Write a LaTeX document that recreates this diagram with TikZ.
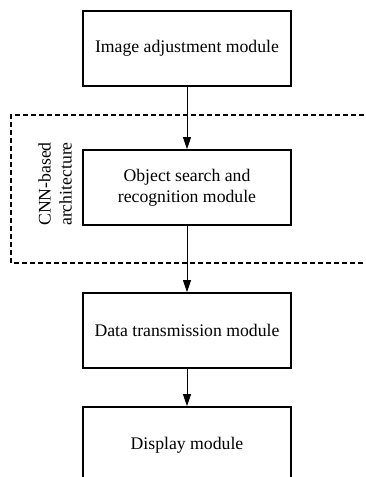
\documentclass[tikz,border=0pt]{standalone}
\usepackage{fontspec}
\setmainfont{Liberation Serif}
\usetikzlibrary{arrows.meta}
\begin{document}
\begin{tikzpicture}[x=1pt,y=-1pt,
  modbox/.style={draw,line width=1.7pt,minimum width=208pt,minimum height=75pt,inner sep=0pt,align=center,font=\fontsize{17.7}{21}\selectfont},
  flow/.style={line width=0.9pt,-{Triangle[length=12pt,width=8pt]}},
  grp/.style={draw,line width=1.4pt,dash pattern=on 5pt off 3pt}]
\useasboundingbox (0,0) rectangle (366,477);
\clip (0,0) rectangle (366,477);
\node[modbox] (a) at (187,48.5) {Image adjustment module};
\node[modbox] (b) at (187,187.5) {Object search and\\recognition module};
\node[modbox] (c) at (187,330.5) {Data transmission module};
\node[modbox,minimum height=76pt] (d) at (187,445) {Display module};
\draw[grp] (380,115) -- (11,115) -- (11,263) -- (380,263);
\node[rotate=90,align=center,font=\fontsize{17.7}{21}\selectfont] (lbl) at (55,184) {CNN-based\\architecture};
\draw[flow] (a) -- (b);
\draw[flow] (b) -- (c);
\draw[flow] (c) -- (d);
\end{tikzpicture}
\end{document}
